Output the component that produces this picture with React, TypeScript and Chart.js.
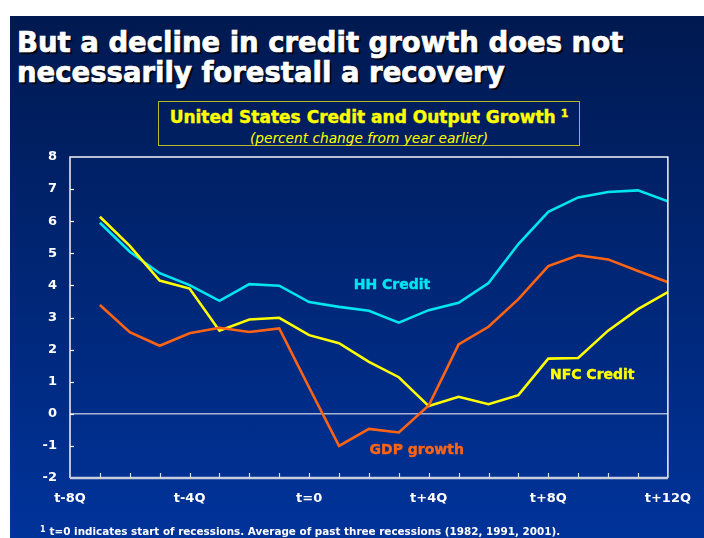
import { useEffect, useRef } from "react";
import { Chart, registerables } from "chart.js";

Chart.register(...registerables);

// ---- data ----
const quarters = [-7, -6, -5, -4, -3, -2, -1, 0, 1, 2, 3, 4, 5, 6, 7, 8, 9, 10, 11, 12];
const hhCredit = [5.95, 5.05, 4.38, 4.01, 3.52, 4.04, 3.99, 3.48, 3.33, 3.21, 2.84, 3.23, 3.46, 4.07, 5.29, 6.29, 6.74, 6.91, 6.96, 6.62];
const nfcCredit = [6.14, 5.23, 4.15, 3.9, 2.59, 2.94, 2.99, 2.45, 2.2, 1.62, 1.14, 0.24, 0.53, 0.3, 0.58, 1.72, 1.74, 2.59, 3.26, 3.79];
const gdpGrowth = [3.39, 2.54, 2.12, 2.51, 2.68, 2.55, 2.66, 0.82, -1.0, -0.47, -0.58, 0.26, 2.16, 2.71, 3.57, 4.6, 4.94, 4.81, 4.45, 4.1];

const xTickValues = [-8, -4, 0, 4, 8, 12];
const xTickLabels = ["t-8Q", "t-4Q", "t=0", "t+4Q", "t+8Q", "t+12Q"];
const yMin = -2;
const yMax = 8;

const seriesNames = ["HH Credit", "NFC Credit", "GDP growth"];
const seriesColors = ["#00E6F0", "#FFFF00", "#FF6414"];
// label anchor points in data units (x in quarters, y in percent)
const labelX = [2.77, 9.47, 3.6];
const labelY = [3.99, 1.21, -1.13];

const FONT = "'DejaVu Sans', Verdana, sans-serif";

export default function App() {
  const ref = useRef<HTMLCanvasElement>(null);

  useEffect(() => {
    if (!ref.current) return;

    const slidePlugin = {
      id: "slideAxes",
      beforeDatasetsDraw(chart: any) {
        const { ctx, chartArea: a, scales } = chart;
        const y0 = scales.y.getPixelForValue(0);
        ctx.save();
        ctx.strokeStyle = "#AAB4D6";
        ctx.lineWidth = 1.5;
        ctx.beginPath();
        ctx.moveTo(a.left, y0);
        ctx.lineTo(a.right, y0);
        ctx.stroke();
        ctx.restore();
      },
      afterDatasetsDraw(chart: any) {
        const { ctx, chartArea: a, scales } = chart;
        ctx.save();
        // top, right, left borders
        ctx.strokeStyle = "#F2F4FA";
        ctx.lineWidth = 1.5;
        ctx.beginPath();
        ctx.moveTo(a.left, a.bottom);
        ctx.lineTo(a.left, a.top);
        ctx.lineTo(a.right, a.top);
        ctx.lineTo(a.right, a.bottom);
        ctx.stroke();
        // bottom axis
        ctx.strokeStyle = "#C9CEDE";
        ctx.lineWidth = 2.5;
        ctx.beginPath();
        ctx.moveTo(a.left, a.bottom);
        ctx.lineTo(a.right, a.bottom);
        ctx.stroke();
        // inward tick marks
        ctx.lineWidth = 1.2;
        ctx.strokeStyle = "#D8DCEA";
        for (let q = xTickValues[0] + 1; q < xTickValues[xTickValues.length - 1]; q++) {
          const px = Math.round(scales.x.getPixelForValue(q)) + 0.5;
          ctx.beginPath();
          ctx.moveTo(px, a.bottom);
          ctx.lineTo(px, a.bottom - 5);
          ctx.stroke();
        }
        ctx.strokeStyle = "#F2F4FA";
        for (let v = yMin + 1; v < yMax; v++) {
          const py = Math.round(scales.y.getPixelForValue(v)) + 0.5;
          ctx.beginPath();
          ctx.moveTo(a.left, py);
          ctx.lineTo(a.left + 4, py);
          ctx.stroke();
        }
        // series labels
        ctx.font = `bold 14px ${FONT}`;
        ctx.textAlign = "center";
        ctx.textBaseline = "middle";
        seriesNames.forEach((name, i) => {
          ctx.fillStyle = seriesColors[i];
          ctx.strokeStyle = seriesColors[i];
          ctx.lineWidth = 0.4;
          const px = scales.x.getPixelForValue(labelX[i]);
          const py = scales.y.getPixelForValue(labelY[i]);
          ctx.fillText(name, px, py);
          ctx.strokeText(name, px, py);
        });
        ctx.restore();
      },
    };

    const mk = (vals: number[], i: number) => ({
      label: seriesNames[i],
      data: quarters.map((q, k) => ({ x: q, y: vals[k] })),
      borderColor: seriesColors[i],
      backgroundColor: seriesColors[i],
      borderWidth: 2.6,
      pointRadius: 0,
      tension: 0,
    });

    const chart = new Chart(ref.current, {
      type: "line",
      data: {
        datasets: [mk(gdpGrowth, 2), mk(nfcCredit, 1), mk(hhCredit, 0)],
      },
      options: {
        animation: false,
        responsive: false,
        maintainAspectRatio: false,
        layout: { padding: { left: 0, top: 157, right: 35, bottom: 0 } },
        plugins: { legend: { display: false }, tooltip: { enabled: false }, title: { display: false } },
        scales: {
          x: {
            type: "linear",
            min: xTickValues[0],
            max: xTickValues[xTickValues.length - 1],
            afterFit: (s: any) => {
              s.height = 60;
            },
            afterBuildTicks: (s: any) => {
              s.ticks = xTickValues.map((v) => ({ value: v }));
            },
            grid: { display: false, drawTicks: false },
            border: { display: false },
            ticks: {
              padding: 13,
              color: "#FFFFFF",
              font: { family: FONT, size: 13, weight: "bold" },
              maxRotation: 0,
              autoSkip: false,
              callback: (v: any) => {
                const idx = xTickValues.indexOf(Number(v));
                return idx >= 0 ? xTickLabels[idx] : "";
              },
            },
          },
          y: {
            min: yMin,
            max: yMax,
            afterFit: (s: any) => {
              s.width = 70;
            },
            grid: { display: false, drawTicks: false },
            border: { display: false },
            ticks: {
              stepSize: 1,
              padding: 13,
              color: "#FFFFFF",
              font: { family: FONT, size: 13, weight: "bold" },
            },
          },
        },
      },
      plugins: [slidePlugin],
    });

    return () => chart.destroy();
  }, []);

  return (
    <div style={{ position: "absolute", left: 0, top: 0, width: 704, height: 538, overflow: "hidden", fontFamily: FONT }}>
      <div
        style={{
          position: "absolute",
          left: 10,
          top: 16,
          width: 694,
          height: 522,
          background: "linear-gradient(#001950, #00339A)",
        }}
      />
      <div
        style={{
          position: "absolute",
          left: 17,
          top: 26.5,
          width: 680,
          color: "#FFFFFF",
          fontWeight: "bold",
          fontSize: 27.5,
          lineHeight: "30px",
          whiteSpace: "nowrap",
          WebkitTextStroke: "0.7px #FFFFFF",
          textShadow: "2px 2px 1px rgba(0,0,0,0.85)",
        }}
      >
        But a decline in credit growth does not
        <br />
        necessarily forestall a recovery
      </div>
      <div
        style={{
          position: "absolute",
          left: 158,
          top: 101,
          width: 420,
          height: 43,
          border: "1.5px solid #B8B820",
          color: "#FFFF00",
        }}
      >
        <div
          style={{
            position: "absolute",
            left: 0,
            right: 0,
            top: 5,
            textAlign: "center",
            fontWeight: "bold",
            fontSize: 17,
            lineHeight: "20px",
            whiteSpace: "nowrap",
            WebkitTextStroke: "0.4px #FFFF00",
          }}
        >
          United States Credit and Output Growth
          <span style={{ fontSize: 11, position: "relative", top: -6, marginLeft: 5 }}>1</span>
        </div>
        <div
          style={{
            position: "absolute",
            left: 0,
            right: 0,
            top: 28,
            textAlign: "center",
            fontStyle: "italic",
            fontSize: 13.7,
            lineHeight: "16px",
            whiteSpace: "nowrap",
          }}
        >
          (percent change from year earlier)
        </div>
      </div>
      <canvas ref={ref} width={704} height={538} style={{ position: "absolute", left: 0, top: 0, width: 704, height: 538 }} />
      <div
        style={{
          position: "absolute",
          left: 40,
          top: 524,
          color: "#FFFFFF",
          fontWeight: "bold",
          fontSize: 10.4,
          lineHeight: "14px",
          whiteSpace: "nowrap",
        }}
      >
        <span style={{ fontSize: 8, position: "relative", top: -3, marginRight: 4 }}>1</span>
        t=0 indicates start of recessions. Average of past three recessions (1982, 1991, 2001).
      </div>
    </div>
  );
}
